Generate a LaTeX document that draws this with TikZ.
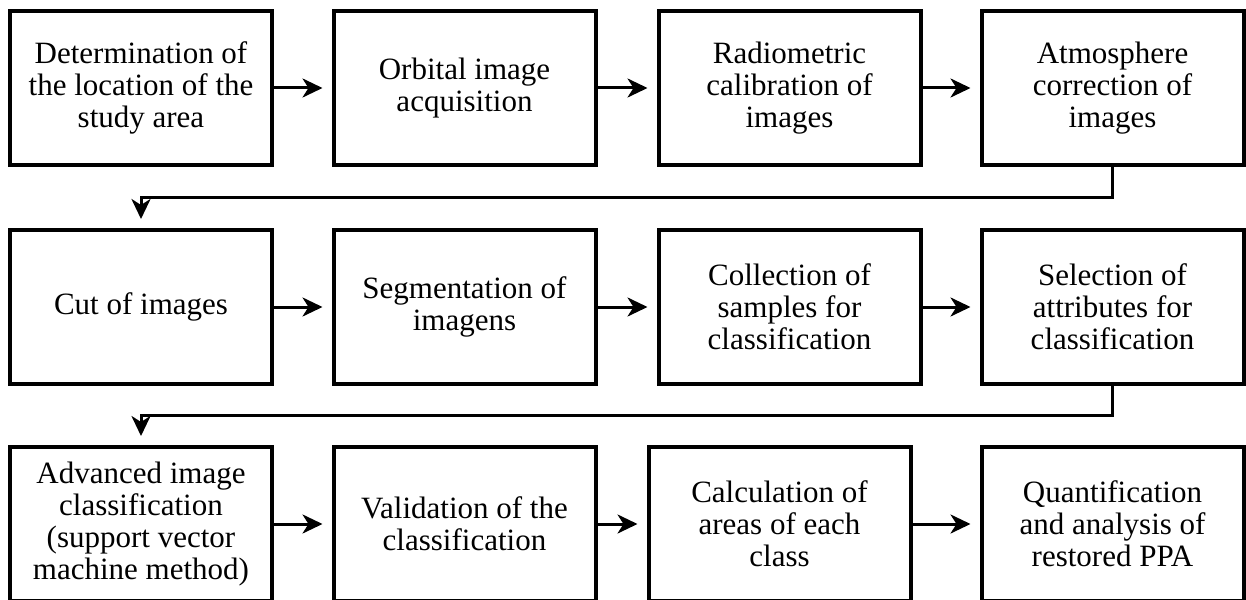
\documentclass[tikz,border=0pt]{standalone}
\usepackage{fontspec}
\setmainfont{Liberation Serif}
\usetikzlibrary{arrows.meta}

\tikzset{
  stepbox/.style={draw=black, line width=4pt, fill=white, inner sep=0pt,
    minimum width=262pt, minimum height=154pt, align=center,
    font=\fontsize{31}{32}\selectfont},
  tip/.tip={Stealth[length=20pt, width=19pt, inset=6pt]},
  flow/.style={draw=black, line width=3pt, -tip, shorten >=9pt},
  wrap/.style={flow}
}

\begin{document}
\begin{tikzpicture}[x=1pt, y=-1pt]
\useasboundingbox (0,0) rectangle (1246,599);
\clip (0,0) rectangle (1246,599);

% first row
\node[stepbox] (a1) at (141,88)    {Determination of\\the location of the\\study area};
\node[stepbox] (a2) at (464.5,88)  {Orbital image\\acquisition};
\node[stepbox] (a3) at (789.5,88)  {Radiometric\\calibration of\\images};
\node[stepbox] (a4) at (1112.5,88) {Atmosphere\\correction of\\images};

% second row
\node[stepbox] (b1) at (141,307)    {Cut of images};
\node[stepbox] (b2) at (464.5,307)  {Segmentation of\\imagens};
\node[stepbox] (b3) at (789.5,307)  {Collection of\\samples for\\classification};
\node[stepbox] (b4) at (1112.5,307) {Selection of\\attributes for\\classification};

% third row
\node[stepbox] (c1) at (141,524)    {Advanced image\\classification\\(support vector\\machine method)};
\node[stepbox] (c2) at (464.5,524)  {Validation of the\\classification};
\node[stepbox] (c3) at (779.5,524)  {Calculation of\\areas of each\\class};
\node[stepbox] (c4) at (1112.5,524) {Quantification\\and analysis of\\restored PPA};

% arrows inside each row
\draw[flow] (a1.east) -- (a2.west);
\draw[flow] (a2.east) -- (a3.west);
\draw[flow] (a3.east) -- (a4.west);
\draw[flow] (b1.east) -- (b2.west);
\draw[flow] (b2.east) -- (b3.west);
\draw[flow] (b3.east) -- (b4.west);
\draw[flow] (c1.east) -- (c2.west);
\draw[flow] (c2.east) -- (c3.west);
\draw[flow] (c3.east) -- (c4.west);

% wrap-around connectors between rows
\coordinate (r1) at (1112.5,197);
\coordinate (r2) at (1112.5,415);
\draw[wrap] (a4.south) -- (r1) -- (r1 -| b1.north) -- (b1.north);
\draw[wrap] (b4.south) -- (r2) -- (r2 -| c1.north) -- (c1.north);
\end{tikzpicture}
\end{document}
